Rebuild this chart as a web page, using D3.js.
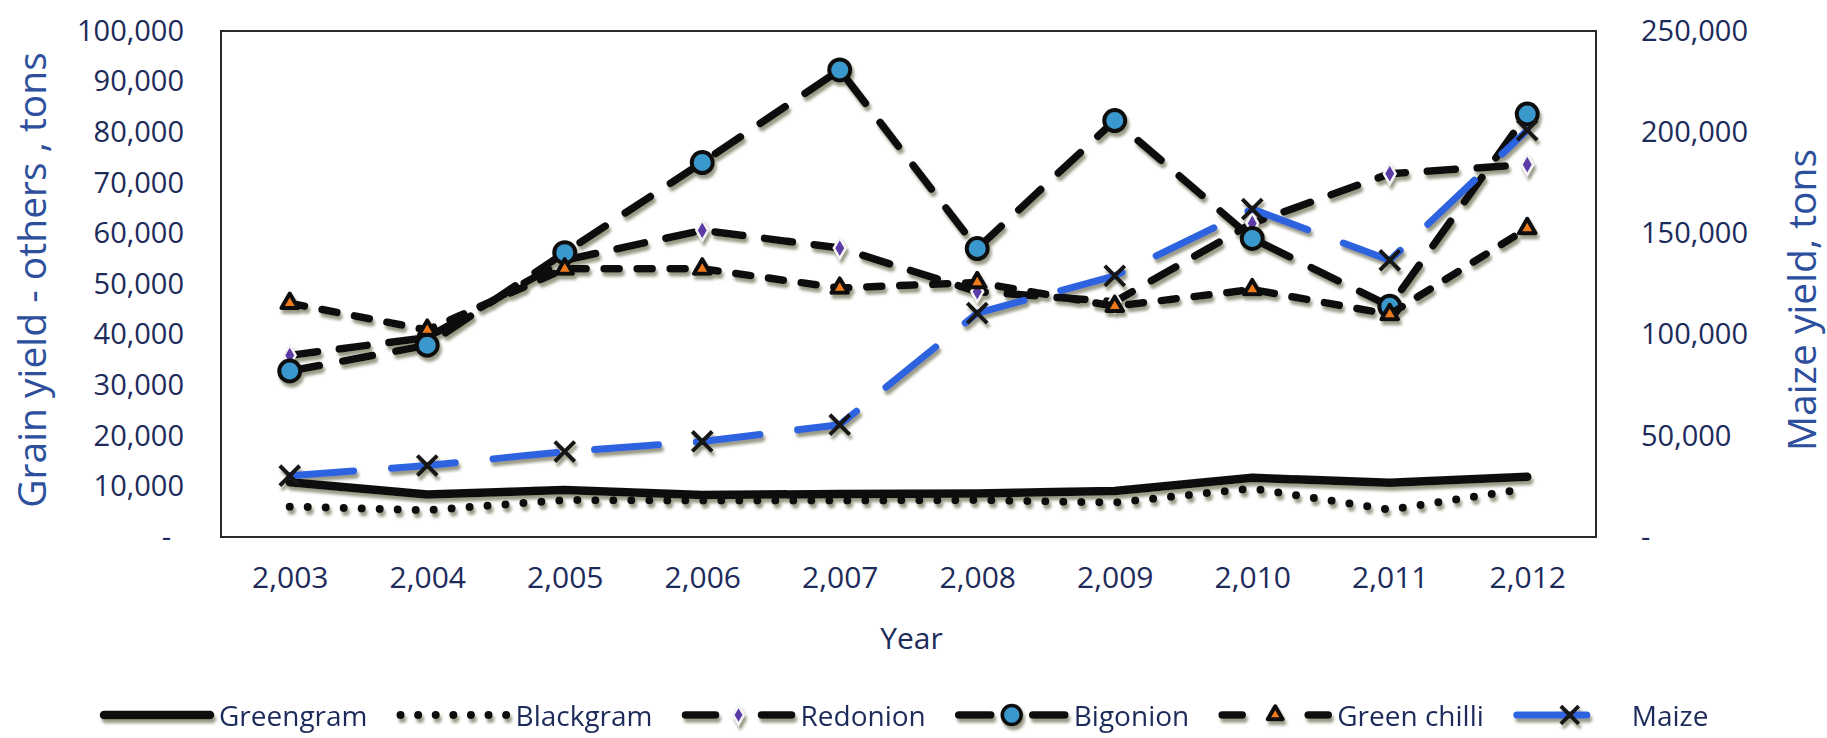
<!DOCTYPE html>
<html><head><meta charset="utf-8">
<script src="https://cdn.jsdelivr.net/npm/d3@7"></script>
<style>
html,body{margin:0;padding:0;background:#fff;}
svg{display:block;}
text{font-family:"Open Sans",sans-serif;}
</style></head><body>
<svg id="chart" width="1827" height="738"></svg>
<script>
// ---------- data ----------
const years = [2003, 2004, 2005, 2006, 2007, 2008, 2009, 2010, 2011, 2012];
const greengram   = [10800, 8400, 9300, 8300, 8500, 8600, 9100, 11700, 10700, 11900];
const blackgram   = [6000, 5300, 7300, 7200, 7200, 7300, 6800, 9600, 5400, 9600];
const redonion    = [35900, 39400, 54700, 60600, 57100, 48500, 46500, 62000, 71800, 73600];
const bigonion    = [32800, 37900, 56200, 74000, 92300, 57000, 82300, 59000, 45600, 83600];
const greenChilli = [46200, 40900, 53000, 53000, 49200, 50300, 45600, 48900, 44000, 61000];
const maize       = [30300, 35300, 42200, 47200, 55500, 110600, 129000, 162000, 136700, 201000];
const seriesNames = ["Greengram", "Blackgram", "Redonion", "Bigonion", "Green chilli", "Maize"];
const leftTicks  = [0, 10000, 20000, 30000, 40000, 50000, 60000, 70000, 80000, 90000, 100000];
const rightTicks = [0, 50000, 100000, 150000, 200000, 250000];
const leftTitle = "Grain yield - others , tons";
const rightTitle = "Maize yield, tons";
const xTitle = "Year";

// ---------- layout / style ----------
const P = {left: 221, right: 1596, top: 31, bottom: 537};
const tickColor = "#1d2b5b", titleColor = "#2d4f9c";
const styles = {
  "Greengram":    {data: greengram,   axis: "L", color: "#0d0d0d", width: 8.5, dash: null,    marker: null,      legendDash: null},
  "Blackgram":    {data: blackgram,   axis: "L", color: "#0d0d0d", width: 8,   dash: "0,18",  marker: null,      legendDash: "0,17.6"},
  "Redonion":     {data: redonion,    axis: "L", color: "#0d0d0d", width: 7.5, dash: "28,22", marker: "diamond", legendDash: "30,46"},
  "Bigonion":     {data: bigonion,    axis: "L", color: "#0d0d0d", width: 7.5, dash: "30,24", marker: "circle",  legendDash: "32,42"},
  "Green chilli": {data: greenChilli, axis: "L", color: "#0d0d0d", width: 7.5, dash: "15,18", marker: "triangle",legendDash: "20,66"},
  "Maize":        {data: maize,       axis: "R", color: "#2f63e0", width: 7,   dash: "64,38", marker: "x",       legendDash: "70,36"}
};

const svg = d3.select("#chart");
const defs = svg.append("defs");
const f = defs.append("filter").attr("id", "sh").attr("filterUnits", "userSpaceOnUse")
  .attr("x", 0).attr("y", 0).attr("width", 1827).attr("height", 738);
f.append("feDropShadow").attr("dx", 2).attr("dy", 4).attr("stdDeviation", 1.8)
  .attr("flood-color", "#6f6f55").attr("flood-opacity", 0.7);

const x = d3.scalePoint().domain(years).range([P.left, P.right]).padding(0.5);
const yL = d3.scaleLinear().domain([0, 100000]).range([P.bottom, P.top]);
const yR = d3.scaleLinear().domain([0, 250000]).range([P.bottom, P.top]);
const fmt = d3.format(",");
const valFmt = d => d === 0 ? "-" : fmt(d);

// plot border
svg.append("rect").attr("x", P.left).attr("y", P.top)
  .attr("width", P.right - P.left).attr("height", P.bottom - P.top)
  .attr("fill", "#fff").attr("stroke", "#2a2a2a").attr("stroke-width", 2);

// axes
const gL = svg.append("g").attr("transform", `translate(${P.left},0)`)
  .call(d3.axisLeft(yL).tickValues(leftTicks).tickFormat(valFmt).tickSize(0).tickPadding(37));
const gR = svg.append("g").attr("transform", `translate(${P.right},0)`)
  .call(d3.axisRight(yR).tickValues(rightTicks).tickFormat(valFmt).tickSize(0).tickPadding(45));
const gX = svg.append("g").attr("transform", `translate(0,${P.bottom})`)
  .call(d3.axisBottom(x).tickFormat(fmt).tickSize(0).tickPadding(30));
[gL, gR, gX].forEach(g => {
  g.select(".domain").remove();
  g.selectAll("text").attr("fill", tickColor).style("font-size", "29px").style("font-family", '"Open Sans",sans-serif');
});
gX.selectAll("text").style("font-size", "30px");
gL.selectAll(".tick").filter(d => d === 0).select("text").attr("x", -50);
gR.selectAll(".tick").filter(d => d === 0).select("text").attr("x", 45);

// axis titles
svg.append("text").attr("transform", "translate(30,280) rotate(-90)")
  .attr("text-anchor", "middle").attr("dominant-baseline", "central")
  .attr("fill", titleColor).style("font-size", "39px").text(leftTitle);
svg.append("text").attr("transform", "translate(1800,300) rotate(-90)")
  .attr("text-anchor", "middle").attr("dominant-baseline", "central")
  .attr("fill", titleColor).style("font-size", "39px").text(rightTitle);
svg.append("text").attr("x", (P.left + P.right) / 2 + 3).attr("y", 637)
  .attr("text-anchor", "middle").attr("dominant-baseline", "central")
  .attr("fill", tickColor).style("font-size", "30px").text(xTitle);

// markers
function drawMarker(g, type, cx, cy, scale) {
  const s = scale || 1;
  if (type === "circle") {
    g.append("circle").attr("cx", cx).attr("cy", cy).attr("r", 10.5 * s)
      .attr("fill", "#3a98cc").attr("stroke", "#111").attr("stroke-width", 4 * s);
  } else if (type === "diamond") {
    g.append("path").attr("d", d3.symbol(d3.symbolDiamond, 120 * s * s)())
      .attr("transform", `translate(${cx},${cy})`)
      .attr("fill", "#5b3aa6").attr("stroke", "#f4f4f4").attr("stroke-width", 2.5);
  } else if (type === "triangle") {
    g.append("path").attr("d", d3.symbol(d3.symbolTriangle, 120 * s * s)())
      .attr("transform", `translate(${cx},${cy})`)
      .attr("fill", "#ee7a1c").attr("stroke", "#111").attr("stroke-width", 4).attr("stroke-linejoin", "round");
  } else if (type === "x") {
    g.append("path").attr("d", d3.symbol(d3.symbolTimes, 260 * s * s)())
      .attr("transform", `translate(${cx},${cy})`)
      .attr("fill", "none").attr("stroke", "#141414").attr("stroke-width", 4);
  }
}

// series
const plot = svg.append("g").attr("filter", "url(#sh)");
seriesNames.forEach(name => {
  const st = styles[name];
  const y = st.axis === "L" ? yL : yR;
  const line = d3.line().x((d, i) => x(years[i])).y(d => y(d));
  const g = plot.append("g");
  g.append("path").datum(st.data).attr("d", line)
    .attr("fill", "none").attr("stroke", st.color).attr("stroke-width", st.width)
    .attr("stroke-linecap", "round").attr("stroke-linejoin", "round")
    .attr("stroke-dasharray", st.dash);
  if (st.marker) {
    st.data.forEach((v, i) => drawMarker(g, st.marker, x(years[i]), y(v)));
  }
});

// legend
const lg = svg.append("g").attr("filter", "url(#sh)");
const legY = 715;
let lx = 104;
seriesNames.forEach(name => {
  const st = styles[name];
  const g = lg.append("g");
  g.append("line").attr("x1", lx).attr("x2", lx + 106).attr("y1", legY).attr("y2", legY)
    .attr("stroke", st.color).attr("stroke-width", st.width)
    .attr("stroke-linecap", "round").attr("stroke-dasharray", st.legendDash);
  if (st.marker) drawMarker(g, st.marker, lx + 53, legY, 0.9);
  const t = svg.append("text").attr("x", lx + 115).attr("y", legY)
    .attr("dominant-baseline", "central").attr("fill", tickColor)
    .style("font-size", "28px").text(name);
  lx += 115 + t.node().getComputedTextLength() + 33;
});
</script>
</body></html>
